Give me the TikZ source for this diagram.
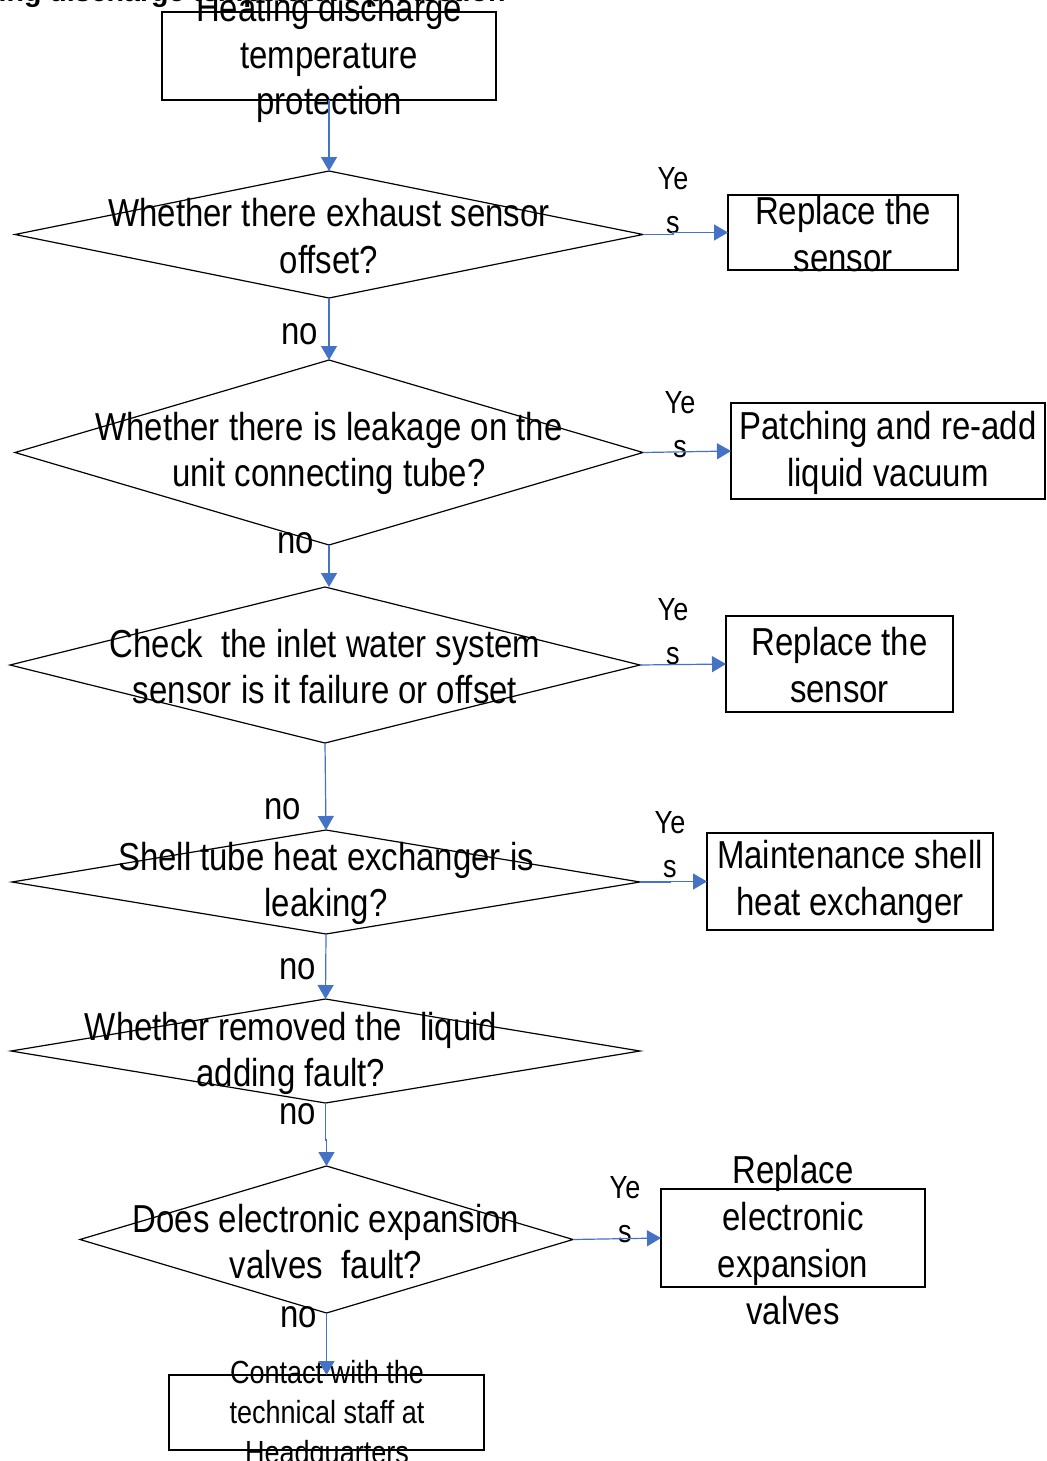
\documentclass[tikz,border=0pt]{standalone}
\usepackage{fontspec}
\setmainfont{Liberation Sans}[FakeStretch=0.845]
\newfontfamily\titlefont{Liberation Sans}
\usetikzlibrary{shapes.geometric,arrows.meta}
\definecolor{arrowblue}{HTML}{4472C4}
\tikzset{
  box/.style={draw=black, line width=0.6pt, inner sep=0pt, outer sep=0pt},
  dia/.style={diamond, draw=black, line width=0.6pt, inner sep=0pt, outer sep=0pt},
  txt/.style={font=\fontsize{19.5}{23.4}\selectfont, align=center, inner sep=0pt},
  smalltxt/.style={font=\fontsize{16}{20}\selectfont, align=center, inner sep=0pt},
  yeslbl/.style={font=\fontsize{16}{22}\selectfont, align=center, inner sep=0pt},
  nolbl/.style={font=\fontsize{19.5}{23.4}\selectfont, inner sep=0pt},
  arr/.style={draw=arrowblue, line width=0.6pt, -{Triangle[length=7pt,width=8pt]}}
}
\begin{document}
\begin{tikzpicture}[x=0.5pt,y=-0.5pt]
\useasboundingbox (0,0) rectangle (1046,1461);
% title (clipped at top)
\node[anchor=base east, font=\titlefont\bfseries\fontsize{14.3}{16}\selectfont, inner sep=0pt] (title) at (506,2) {Heating discharge temperature protection};
% boxes
\node[box, minimum width=167pt, minimum height=44pt] (b0) at (329,56) {};
\node[box, minimum width=115pt, minimum height=37.5pt] (r1) at (843,232.5) {};
\node[box, minimum width=157pt, minimum height=48pt] (r2) at (888,451) {};
\node[box, minimum width=113.5pt, minimum height=48pt] (r3) at (839.5,664) {};
\node[box, minimum width=143pt, minimum height=48.5pt] (r4) at (850,881.5) {};
\node[box, minimum width=132pt, minimum height=49pt] (r6) at (793,1238) {};
\node[box, minimum width=157.5pt, minimum height=37.5pt] (b7) at (326.5,1412.5) {};
% diamonds
\node[dia, minimum width=314pt, minimum height=63.5pt] (d1) at (329,234.5) {};
\node[dia, minimum width=314pt, minimum height=92.5pt] (d2) at (329,452.5) {};
\node[dia, minimum width=315pt, minimum height=78pt] (d3) at (325,665) {};
\node[dia, minimum width=314pt, minimum height=52pt] (d4) at (326,882) {};
\node[dia, minimum width=314.5pt, minimum height=52pt] (d5) at (325.5,1051) {};
\node[dia, minimum width=246.5pt, minimum height=73.5pt] (d6) at (326.5,1239.5) {};
% texts
\node[txt] (b0t) at (329,58) {Heating discharge\\temperature\\protection};
\node[txt] (r1t) at (843,234) {Replace the\\sensor};
\node[txt] (r2t) at (888,453) {Patching and re-add\\liquid vacuum};
\node[txt] (r3t) at (839.5,665) {Replace the\\sensor};
\node[txt] (r4t) at (850,882) {Maintenance shell\\heat exchanger};
\node[txt] (r6t) at (793,1240) {Replace\\electronic\\expansion\\valves};
\node[smalltxt] (b7t) at (327,1415) {Contact with the\\technical staff at\\Headquarters};
\node[txt] (d1t) at (329,236) {Whether there exhaust sensor\\offset?};
\node[txt] (d2t) at (329,453.5) {Whether there is leakage on the\\unit connecting tube?};
\node[txt] (d3t) at (325,666.5) {Check\ \ the inlet water system\\sensor is it failure or offset};
\node[txt] (d4t) at (326,883.5) {Shell tube heat exchanger is\\leaking?};
\node[txt] (d5t) at (291,1053.5) {Whether removed the\ \ liquid\\adding fault?};
\node[txt] (d6t) at (326,1241.5) {Does electronic expansion\\valves\ \ fault?};
% yes labels
\node[yeslbl] (y1) at (673,201) {Ye\\s};
\node[yeslbl] (y2) at (680,425) {Ye\\s};
\node[yeslbl] (y3) at (673,632) {Ye\\s};
\node[yeslbl] (y4) at (670,845) {Ye\\s};
\node[yeslbl] (y6) at (625,1210) {Ye\\s};
% no labels
\node[nolbl] (n1) at (300,334) {no};
\node[nolbl] (n2) at (296,543) {no};
\node[nolbl] (n3) at (283,809) {no};
\node[nolbl] (n4) at (298,969) {no};
\node[nolbl] (n5) at (298,1114) {no};
\node[nolbl] (n6) at (299,1317) {no};
% connectors
\draw[arr] (b0.south) -- (d1.north);
\draw[arr] (d1.south) -- (d2.north);
\draw[arr] (d2.south) -- (d2.south |- d3.north);
\draw[arr] (d3.south) -- (d4.north);
\draw[arr] (d4.south) -- (d5.north);
\draw[arr] (d5.south) -- ++(0,37) -| (d6.north);
\draw[arr] (d6.south) -- (b7.north);
\draw[arr] (d1.east) -- ++(30,0) |- (r1.west);
\draw[arr] (d2.east) -- (r2.west);
\draw[arr] (d3.east) -- (r3.west);
\draw[arr] (d4.east) -- ++(30,0) |- (r4.west);
\draw[arr] (d6.east) -- (r6.west);
\end{tikzpicture}
\end{document}
